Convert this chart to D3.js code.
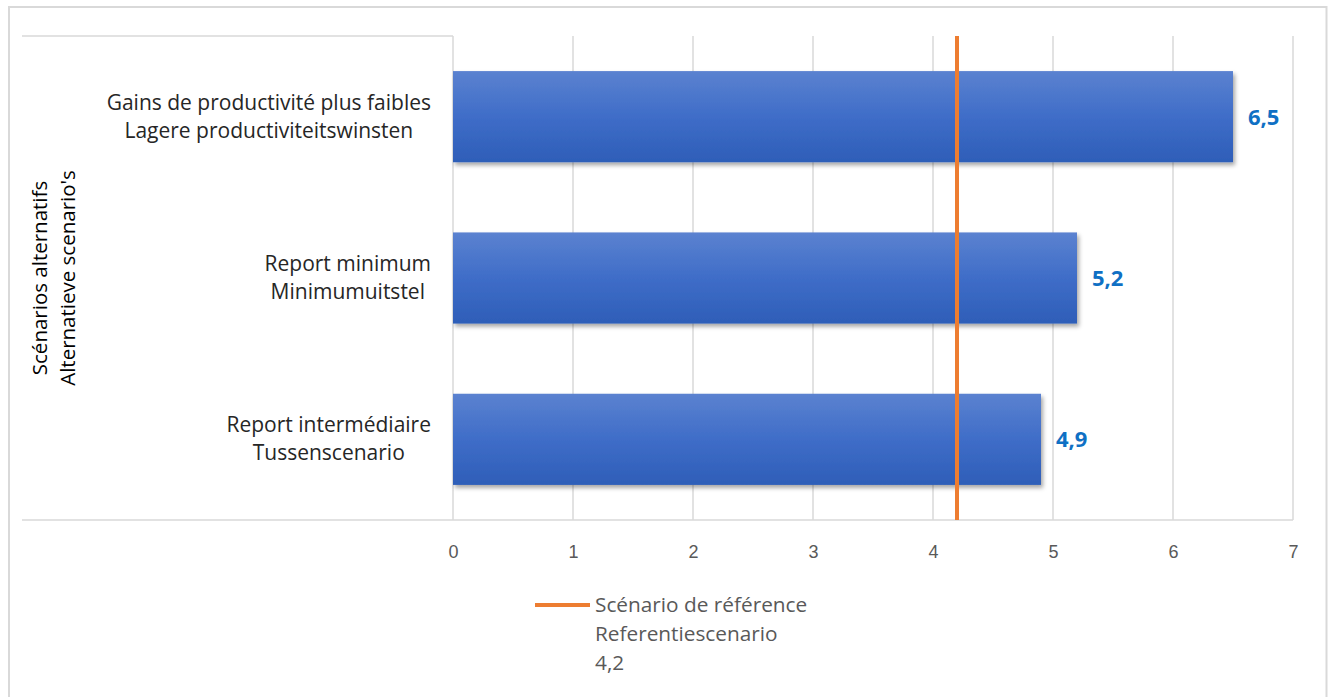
<!DOCTYPE html>
<html>
<head>
<meta charset="utf-8">
<script src="https://cdn.jsdelivr.net/npm/d3@7"></script>
<style>
  html, body { margin: 0; padding: 0; background: #ffffff; }
  svg { display: block; font-family: "Open Sans", "Liberation Sans", sans-serif; }
</style>
</head>
<body>
<svg id="chart" width="1328" height="697"></svg>
<script>
// Scenario labels (French / Dutch) and their values
const categoriesFR = ["Gains de productivité plus faibles", "Report minimum", "Report intermédiaire"];
const categoriesNL = ["Lagere productiviteitswinsten", "Minimumuitstel", "Tussenscenario"];
const values = [6.5, 5.2, 4.9];
const valueLabels = ["6,5", "5,2", "4,9"];
const referenceValue = 4.2;
const referenceLabel = ["Scénario de référence", "Referentiescenario", "4,2"];
const axisTitle = ["Scénarios alternatifs", "Alternatieve scenario's"];
const xTicks = [0, 1, 2, 3, 4, 5, 6, 7];

const svg = d3.select("#chart");
const plot = { left: 453, right: 1293, top: 36, bottom: 520 };

const x = d3.scaleLinear().domain([0, 7]).range([plot.left, plot.right]);
const y = d3.scaleBand().domain(d3.range(values.length))
  .range([plot.top, plot.bottom]).paddingInner(0.435).paddingOuter(0.2175);

// outer frame
svg.append("path")
  .attr("d", "M9,700 V7 H1326.5 V700")
  .attr("fill", "none").attr("stroke", "#d9d9d9").attr("stroke-width", 2);

// defs: bar gradient and shadow
const defs = svg.append("defs");
const grad = defs.append("linearGradient").attr("id", "barGrad")
  .attr("x1", 0).attr("y1", 0).attr("x2", 0).attr("y2", 1);
grad.append("stop").attr("offset", "0%").attr("stop-color", "#5b82d0");
grad.append("stop").attr("offset", "50%").attr("stop-color", "#3f6dc8");
grad.append("stop").attr("offset", "100%").attr("stop-color", "#2e5eb8");
const shadow = defs.append("filter").attr("id", "barShadow")
  .attr("x", "-5%").attr("y", "-20%").attr("width", "110%").attr("height", "150%");
shadow.append("feDropShadow").attr("dx", 2).attr("dy", 3).attr("stdDeviation", 2.2)
  .attr("flood-color", "#000").attr("flood-opacity", 0.35);

// vertical gridlines
svg.append("g").selectAll("line").data(xTicks).join("line")
  .attr("x1", d => x(d)).attr("x2", d => x(d))
  .attr("y1", plot.top).attr("y2", plot.bottom)
  .attr("stroke", "#d9d9d9").attr("stroke-width", 1.5);

// category axis frame lines
svg.append("line").attr("x1", 22).attr("x2", plot.left).attr("y1", plot.top).attr("y2", plot.top)
  .attr("stroke", "#d9d9d9").attr("stroke-width", 1.5);
svg.append("line").attr("x1", 22).attr("x2", plot.right).attr("y1", plot.bottom).attr("y2", plot.bottom)
  .attr("stroke", "#d9d9d9").attr("stroke-width", 1.5);

// bars
svg.append("g").selectAll("rect").data(values).join("rect")
  .attr("x", x(0)).attr("y", (d, i) => y(i))
  .attr("width", d => x(d) - x(0)).attr("height", y.bandwidth())
  .attr("fill", "url(#barGrad)").attr("filter", "url(#barShadow)");

// value labels
svg.append("g").selectAll("text").data(values).join("text")
  .attr("x", d => x(d) + 15).attr("y", (d, i) => y(i) + y.bandwidth() / 2)
  .attr("dy", "0.36em")
  .attr("fill", "#0f70c4").attr("font-weight", "bold").attr("font-size", 22)
  .text((d, i) => valueLabels[i]);

// reference line
svg.append("line")
  .attr("x1", x(referenceValue)).attr("x2", x(referenceValue))
  .attr("y1", plot.top).attr("y2", plot.bottom)
  .attr("stroke", "#ed7d31").attr("stroke-width", 4);

// x axis tick labels
const xAxis = d3.axisBottom(x).tickValues(xTicks).tickSize(0).tickPadding(25).tickFormat(d3.format("d"));
const gx = svg.append("g").attr("transform", `translate(0,${plot.bottom})`).call(xAxis);
gx.select(".domain").remove();
gx.selectAll("text").attr("fill", "#595959").attr("font-size", 18)
  .attr("font-family", "Liberation Sans Narrow, Liberation Sans, sans-serif");

// category labels: two lines, centred on each other, block right-aligned
const catG = svg.append("g");
categoriesFR.forEach((fr, i) => {
  const cy = y(i) + y.bandwidth() / 2;
  const t = catG.append("text").attr("font-size", 21).attr("fill", "#262626")
    .attr("text-anchor", "middle");
  const l1 = t.append("tspan").attr("y", cy - 7).text(fr);
  const l2 = t.append("tspan").attr("y", cy + 21).text(categoriesNL[i]);
  const w = Math.max(l1.node().getComputedTextLength(), l2.node().getComputedTextLength());
  const cx = 431 - w / 2;
  l1.attr("x", cx); l2.attr("x", cx);
});

// rotated axis title
const title = svg.append("text").attr("font-size", 20.5).attr("fill", "#000")
  .attr("text-anchor", "middle").attr("transform", "translate(47,278) rotate(-90)");
title.append("tspan").attr("x", 0).attr("y", 0).text(axisTitle[0]);
title.append("tspan").attr("x", 0).attr("y", 28).text(axisTitle[1]);

// legend
const lg = svg.append("g");
lg.append("line").attr("x1", 535).attr("x2", 590).attr("y1", 605).attr("y2", 605)
  .attr("stroke", "#ed7d31").attr("stroke-width", 4);
lg.selectAll("text").data(referenceLabel).join("text")
  .attr("x", 595).attr("y", (d, i) => 612 + i * 29)
  .attr("font-size", 20.8).attr("fill", "#595959").text(d => d);
</script>
</body>
</html>
